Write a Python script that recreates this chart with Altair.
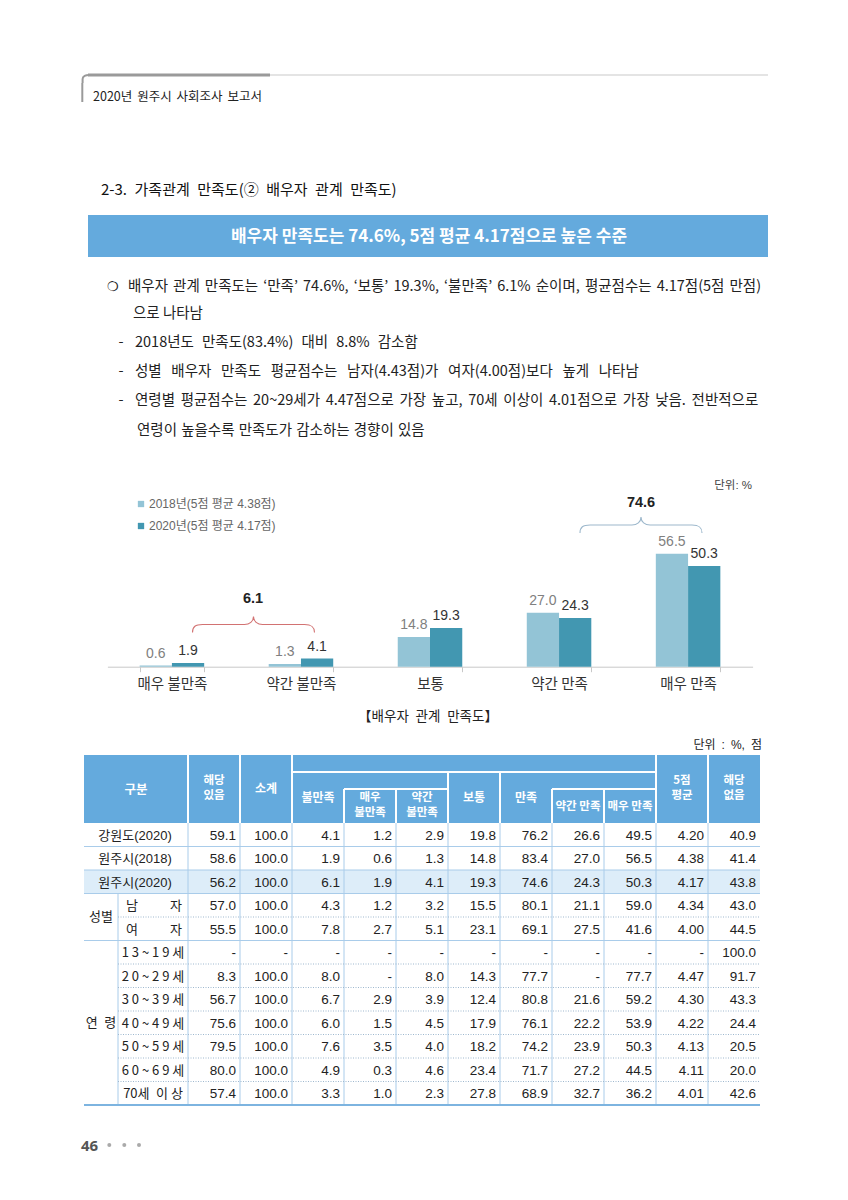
import altair as alt
import pandas as pd

# ---------------- data ----------------
categories = ["매우 불만족", "약간 불만족", "보통", "약간 만족", "매우 만족"]
series = ["2018년(5점 평균 4.38점)", "2020년(5점 평균 4.17점)"]
values_2018 = [0.6, 1.3, 14.8, 27.0, 56.5]
values_2020 = [1.9, 4.1, 19.3, 24.3, 50.3]
brace_low_label = "6.1"
brace_high_label = "74.6"

table_columns = ["해당있음", "소계", "불만족", "매우 불만족", "약간 불만족", "보통",
                 "만족", "약간 만족", "매우 만족", "5점 평균", "해당없음"]
table_rows = ["강원도(2020)", "원주시(2018)", "원주시(2020)", "남자", "여자",
              "13~19세", "20~29세", "30~39세", "40~49세", "50~59세", "60~69세", "70세 이상"]
row_groups = ["전체", "전체", "전체", "성별", "성별",
              "연령", "연령", "연령", "연령", "연령", "연령", "연령"]
row_gangwon_2020 = ["59.1", "100.0", "4.1", "1.2", "2.9", "19.8", "76.2", "26.6", "49.5", "4.20", "40.9"]
row_wonju_2018 = ["58.6", "100.0", "1.9", "0.6", "1.3", "14.8", "83.4", "27.0", "56.5", "4.38", "41.4"]
row_wonju_2020 = ["56.2", "100.0", "6.1", "1.9", "4.1", "19.3", "74.6", "24.3", "50.3", "4.17", "43.8"]
row_male = ["57.0", "100.0", "4.3", "1.2", "3.2", "15.5", "80.1", "21.1", "59.0", "4.34", "43.0"]
row_female = ["55.5", "100.0", "7.8", "2.7", "5.1", "23.1", "69.1", "27.5", "41.6", "4.00", "44.5"]
row_age_13 = ["-", "-", "-", "-", "-", "-", "-", "-", "-", "-", "100.0"]
row_age_20 = ["8.3", "100.0", "8.0", "-", "8.0", "14.3", "77.7", "-", "77.7", "4.47", "91.7"]
row_age_30 = ["56.7", "100.0", "6.7", "2.9", "3.9", "12.4", "80.8", "21.6", "59.2", "4.30", "43.3"]
row_age_40 = ["75.6", "100.0", "6.0", "1.5", "4.5", "17.9", "76.1", "22.2", "53.9", "4.22", "24.4"]
row_age_50 = ["79.5", "100.0", "7.6", "3.5", "4.0", "18.2", "74.2", "23.9", "50.3", "4.13", "20.5"]
row_age_60 = ["80.0", "100.0", "4.9", "0.3", "4.6", "23.4", "71.7", "27.2", "44.5", "4.11", "20.0"]
row_age_70 = ["57.4", "100.0", "3.3", "1.0", "2.3", "27.8", "68.9", "32.7", "36.2", "4.01", "42.6"]
table_values = [row_gangwon_2020, row_wonju_2018, row_wonju_2020, row_male, row_female,
                row_age_13, row_age_20, row_age_30, row_age_40, row_age_50, row_age_60, row_age_70]

# ---------------- styles ----------------
KR = "Noto Sans CJK KR"
NAR = "Liberation Sans, Noto Sans CJK KR"
C18 = "#93C4D6"
C20 = "#4297B1"
HEAD = "#64AADD"
LINE = "#A9CCEA"
O = 8  # page margin
EN = "\u2002"
SIX = "\u2006"
HAIR = "\u200A"

ONE = pd.DataFrame({"k": [0]})


def sp(s, rep):
    return s.replace(" ", rep)


def T(s, x, y, size=14, color="#222", weight="normal", align="left", font=KR, baseline="middle"):
    return alt.Chart(ONE).mark_text(text=s, align=align, baseline=baseline, font=font,
                                    fontSize=size, color=color, fontWeight=weight).encode(
        x=alt.value(x - O), y=alt.value(y - O))


def R(x1, y1, x2, y2, color):
    return alt.Chart(ONE).mark_rect(color=color).encode(
        x=alt.value(x1 - O), x2=alt.value(x2 - O), y=alt.value(y1 - O), y2=alt.value(y2 - O))


def L(x1, y1, x2, y2, color, w=1.0, dash=None):
    kw = dict(color=color, strokeWidth=w)
    if dash:
        kw["strokeDash"] = dash
    return alt.Chart(ONE).mark_rule(**kw).encode(
        x=alt.value(x1 - O), x2=alt.value(x2 - O), y=alt.value(y1 - O), y2=alt.value(y2 - O))


BRACE = ("M -1 0.131 C -1 0.033 -0.951 0 -0.836 0 L -0.148 0 C -0.066 0 0 -0.049 0 -0.131 "
         "C 0 -0.049 0.066 0 0.148 0 L 0.836 0 C 0.951 0 1 0.033 1 0.131")
CORNER = "M 1 -1 C 0.2 -1 -0.6 -0.7 -0.6 0 L -0.6 1"


def SHAPE(path, cx, cy, w, color, sw=1.1):
    return alt.Chart(ONE).mark_point(shape=path, filled=False, opacity=1, strokeWidth=sw,
                                     color=color, size=w * w).encode(
        x=alt.value(cx - O), y=alt.value(cy - O))


def DOT(x, y):
    return alt.Chart(ONE).mark_circle(size=16, color="#aaaaaa", opacity=1).encode(
        x=alt.value(x - O), y=alt.value(y - O))


deco = []
# page header
deco.append(L(90, 75, 768, 75, "#c9c9c9", 1))
deco.append(L(88, 75, 270, 75, "#9a9a9a", 3))
deco.append(SHAPE(CORNER, 85, 79, 8, "#9a9a9a", 2))
deco.append(L(82.3, 83, 82.3, 102, "#9a9a9a", 2))
deco.append(T(sp("2020년 원주시 사회조사 보고서", " " + SIX), 93, 97, 12.5, "#222"))
# section title
deco.append(T(sp("2-3. 가족관계 만족도(② 배우자 관계 만족도)", EN), 101, 190, 15, "#111"))
deco.append(R(88, 215, 768, 257, HEAD))
deco.append(T("배우자 만족도는 74.6%, 5점 평균 4.17점으로 높은 수준", 429, 237, 17, "white", "bold", "center"))
# paragraph
PS = 14.5
deco.append(T("❍", 113, 287, 13, "#222", align="center"))
deco.append(T(sp("배우자 관계 만족도는 ‘만족’ 74.6%, ‘보통’ 19.3%, ‘불만족’ 6.1% 순이며, 평균점수는 4.17점(5점 만점)", " " + HAIR + HAIR), 128, 287, PS))
deco.append(T("으로 나타남", 133, 314, PS))
deco.append(T("-", 121, 343, PS, align="center"))
deco.append(T(sp("2018년도 만족도(83.4%) 대비 8.8% 감소함", " " + SIX + SIX), 135, 343, PS))
deco.append(T("-", 121, 372, PS, align="center"))
deco.append(T(sp("성별 배우자 만족도 평균점수는 남자(4.43점)가 여자(4.00점)보다 높게 나타남", EN + SIX), 135, 372, PS))
deco.append(T("-", 121, 401, PS, align="center"))
deco.append(T(sp("연령별 평균점수는 20~29세가 4.47점으로 가장 높고, 70세 이상이 4.01점으로 가장 낮음. 전반적으로", " " + SIX), 135, 401, PS))
deco.append(T(sp("연령이 높을수록 만족도가 감소하는 경향이 있음", " " + HAIR), 137, 431, PS))
# chart annotations
deco.append(T("단위: %", 752, 486, 11.5, "#444", align="right", font=NAR))
deco.append(SHAPE(BRACE, 641, 525, 122, "#9DB8CC"))
deco.append(T(brace_high_label, 641, 503, 14.5, "#222", "bold", "center", font=NAR))
deco.append(SHAPE(BRACE, 253.5, 624.5, 122, "#D27272"))
deco.append(T(brace_low_label, 253, 599, 14.5, "#222", "bold", "center", font=NAR))
# table caption
deco.append(T(sp("【배우자 관계 만족도】", EN), 428, 717, 13.5, "#222", "normal", "center"))
deco.append(T(sp("단위 : %, 점", EN), 762, 745, 12, "#222", align="right", font=NAR))
# table header
deco.append(R(84, 755, 760, 823, HEAD))
deco.append(R(84, 870, 760, 893.5, "#DDEDF9"))
for xv in [188, 240, 292, 656, 708]:
    deco.append(L(xv, 755, xv, 823, "white", 2))
deco.append(L(292, 772, 656, 772, "white", 2))
for xv in [448, 500]:
    deco.append(L(xv, 772, xv, 823, "white", 2))
deco.append(L(344, 789, 448, 789, "white", 2))
deco.append(L(552, 789, 656, 789, "white", 2))
for xv in [344, 396, 552, 604]:
    deco.append(L(xv, 789, xv, 823, "white", 2))
HW = "bold"
HS = 11.5
deco.append(T("구분", 136, 790, 12.5, "white", HW, "center"))
deco.append(T("해당", 214, 781, HS, "white", HW, "center"))
deco.append(T("있음", 214, 796, HS, "white", HW, "center"))
deco.append(T("소계", 266, 789, 12, "white", HW, "center"))
deco.append(T("불만족", 318, 798, 12, "white", HW, "center"))
deco.append(T("매우", 370, 798, HS, "white", HW, "center"))
deco.append(T("불만족", 370, 813, HS, "white", HW, "center"))
deco.append(T("약간", 422, 798, HS, "white", HW, "center"))
deco.append(T("불만족", 422, 813, HS, "white", HW, "center"))
deco.append(T("보통", 474, 798, 12, "white", HW, "center"))
deco.append(T("만족", 526, 798, 12, "white", HW, "center"))
deco.append(T("약간 만족", 578, 807, HS, "white", HW, "center"))
deco.append(T("매우 만족", 630, 807, HS, "white", HW, "center"))
deco.append(T("5점", 682, 781, HS, "white", HW, "center"))
deco.append(T("평균", 682, 796, HS, "white", HW, "center"))
deco.append(T("해당", 734, 781, HS, "white", HW, "center"))
deco.append(T("없음", 734, 796, HS, "white", HW, "center"))
# table body lines
bounds = [823 + 23.5 * k for k in range(13)]
for xv in [188, 240, 292, 344, 396, 448, 500, 552, 604, 656, 708]:
    deco.append(L(xv, 823, xv, 1105, LINE, 1))
deco.append(L(118, bounds[3], 118, 1105, LINE, 1))
for k in [1, 2, 3, 5]:
    deco.append(L(84, bounds[k], 760, bounds[k], LINE, 1))
for k in [4, 6, 7, 8, 9, 10, 11]:
    deco.append(L(118, bounds[k], 760, bounds[k], "#9FB8CF", 1, [1, 1.5]))
deco.append(L(84, 1105, 760, 1105, "#7DB4E0", 2))
deco.append(T("성별", 101, 917, 13, "#222", align="center"))
deco.append(T("연" + EN + "령", 101, 1023, 13, "#222", align="center"))
# footer
deco.append(T("46", 81, 1146, 15, "#555", "bold", font="Noto Sans"))
for xv in [109.3, 124.3, 139]:
    deco.append(DOT(xv, 1145))

# ---------------- bar chart ----------------
bar_df = pd.DataFrame({
    "category": categories * 2,
    "series": [series[0]] * len(categories) + [series[1]] * len(categories),
    "value": values_2018 + values_2020,
})
X0 = 107.4 - O
X1 = 752.6 - O
Y0 = 666.7 - O
xs = alt.X("category:N", sort=categories,
           scale=alt.Scale(type="band", range=[X0, X1], paddingInner=0.5, paddingOuter=0.25),
           axis=alt.Axis(title=None, orient="bottom", offset=Y0 - 1184, labelAngle=0, labelFont=KR,
                         labelFontSize=14.5, labelColor="#333", labelPadding=6, tickBand="extent",
                         tickSize=5, tickColor="#c8c8c8", domainColor="#c8c8c8", grid=False))
ys = alt.Y("value:Q", scale=alt.Scale(domain=[0, 80], range=[Y0, Y0 - 160], nice=False, zero=True), axis=None)
xo = alt.XOffset("series:N", sort=series, scale=alt.Scale(paddingInner=0, paddingOuter=0))

bars = alt.Chart(bar_df).mark_bar().encode(
    x=xs, xOffset=xo, y=ys,
    color=alt.Color("series:N", sort=series, scale=alt.Scale(domain=series, range=[C18, C20]),
                    legend=alt.Legend(orient="none", legendX=127, legendY=490, direction="vertical",
                                      title=None, symbolType="square", symbolSize=40, symbolStrokeWidth=0,
                                      labelFontSize=12, labelColor="#666", labelFont=NAR,
                                      rowPadding=10, padding=0, labelOffset=2)))
lab18 = alt.Chart(bar_df).transform_filter(alt.datum.series == series[0]).mark_text(
    dy=-8, baseline="alphabetic", fontSize=14, color="#808080", font=NAR).encode(
    x=xs, xOffset=xo, y=ys, text=alt.Text("value:Q", format=".1f"))
lab20 = alt.Chart(bar_df).transform_filter(alt.datum.series == series[1]).mark_text(
    dy=-8, baseline="alphabetic", fontSize=14, color="#333333", font=NAR).encode(
    x=xs, xOffset=xo, y=ys, text=alt.Text("value:Q", format=".1f"))
bar_layer = alt.layer(bars, lab18, lab20)

# ---------------- table ----------------
recs = []
for r, g, vals in zip(table_rows, row_groups, table_values):
    for c, v in zip(table_columns, vals):
        recs.append({"row": r, "col": c, "val": v})
tbl = pd.DataFrame(recs)


def spaced(s):
    if " " in s:
        a, b = s.split(" ", 1)
        return a + EN + " ".join(b)
    return " ".join(s)


lab_df = pd.DataFrame({"row": table_rows, "group": row_groups})
lab_df["first"] = lab_df["row"].str[0]
lab_df["last"] = lab_df["row"].str[1:]
lab_df["spaced"] = lab_df["row"].apply(spaced)

tx = alt.X("col:N", sort=table_columns, bandPosition=1,
           scale=alt.Scale(type="band", range=[188 - O, 760 - O], paddingInner=0, paddingOuter=0), axis=None)
ty = alt.Y("row:N", sort=table_rows, bandPosition=0.5,
           scale=alt.Scale(type="band", range=[823 - O, 1105 - O], paddingInner=0, paddingOuter=0), axis=None)
cells = alt.Chart(tbl).mark_text(align="right", baseline="middle", dx=-4, dy=1, fontSize=13.5,
                                 font=NAR, color="#222").encode(x=tx, y=ty, text="val:N")
lab_total = alt.Chart(lab_df).transform_filter(alt.datum.group == "전체").mark_text(
    align="center", baseline="middle", dy=1, fontSize=13, font=NAR, color="#222").encode(
    x=alt.value(135 - O), y=ty, text="row:N")
lab_sex1 = alt.Chart(lab_df).transform_filter(alt.datum.group == "성별").mark_text(
    align="left", baseline="middle", dy=1, fontSize=13, font=KR, color="#222").encode(
    x=alt.value(126 - O), y=ty, text="first:N")
lab_sex2 = alt.Chart(lab_df).transform_filter(alt.datum.group == "성별").mark_text(
    align="right", baseline="middle", dy=1, fontSize=13, font=KR, color="#222").encode(
    x=alt.value(182 - O), y=ty, text="last:N")
lab_age = alt.Chart(lab_df).transform_filter(alt.datum.group == "연령").mark_text(
    align="center", baseline="middle", dy=1, fontSize=13, font=KR, color="#222").encode(
    x=alt.value(153 - O), y=ty, text="spaced:N")
table_layer = alt.layer(cells, lab_total, lab_sex1, lab_sex2, lab_age)

chart = alt.layer(*deco, bar_layer, table_layer).resolve_scale(
    x="independent", y="independent").properties(
    width=832, height=1184, padding=0,
    autosize=alt.AutoSizeParams(type="none")
).configure_view(stroke="transparent", strokeWidth=0).configure(
    background="white", style={"cell": {"stroke": "transparent", "strokeWidth": 0}})

chart.save("out.html", embed_options={"renderer": "svg", "actions": False})
